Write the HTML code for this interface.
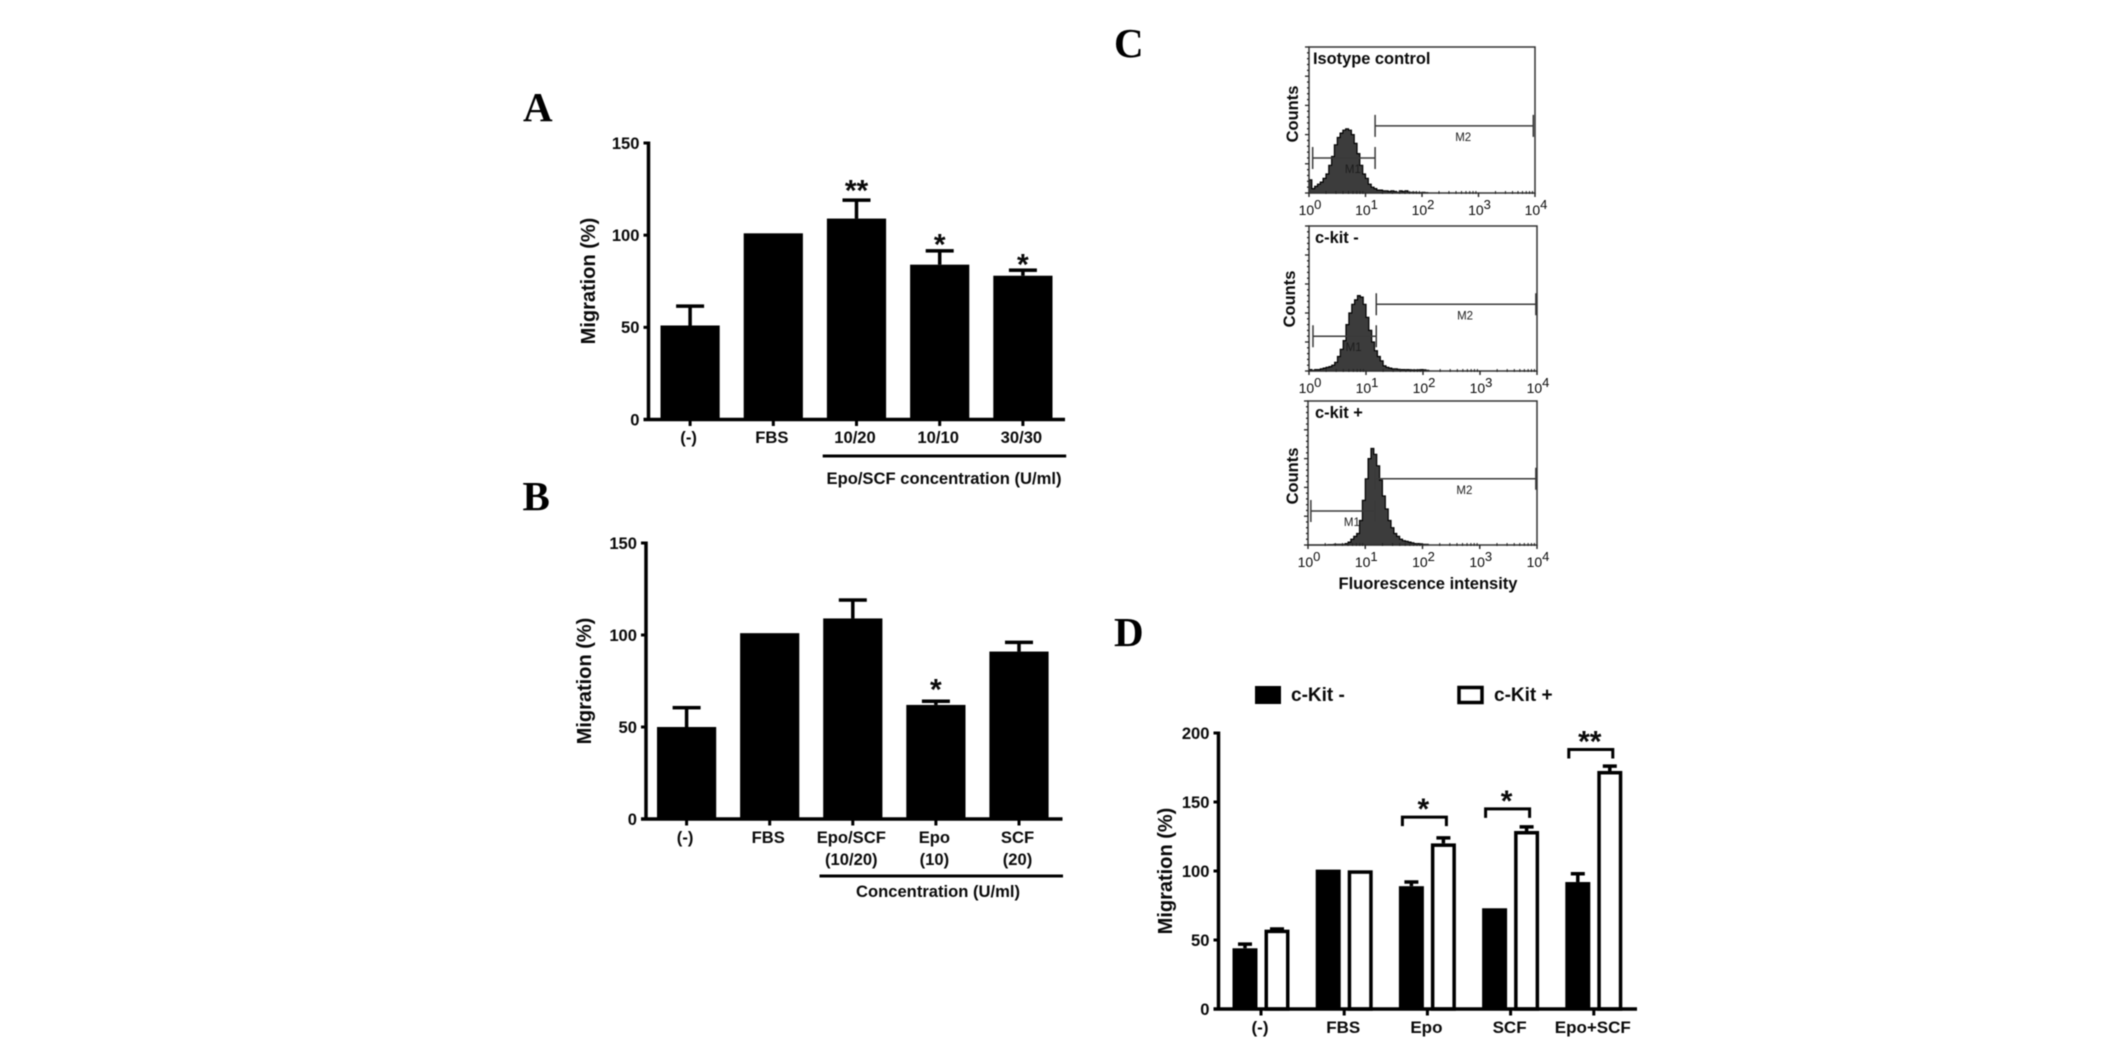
<!DOCTYPE html>
<html lang="en">
<head>
<meta charset="utf-8">
<title>Migration and c-Kit flow cytometry figure</title>
<style>
html,body{margin:0;padding:0;background:#fff;}
#figure{display:block;width:2125px;height:1042px;font-family:"Liberation Sans",sans-serif;filter:blur(0.5px);}
text{font-family:"Liberation Sans",sans-serif;fill:#0a0a0a;}
.panel-letter{font-family:"Liberation Serif",serif;font-weight:bold;font-size:41px;fill:#000;}
.tick{font-size:16.6px;font-weight:bold;}
.tick-d{font-size:17px;font-weight:bold;}
.title{font-size:20px;font-weight:bold;}
.note{font-size:16.6px;font-weight:bold;}
.star{font-size:30px;font-weight:bold;text-anchor:middle;}
.hist-title{font-size:16.4px;font-weight:bold;}
.flow-title{font-size:16.5px;font-weight:bold;}
.flow-tick{font-size:14px;}
.gate-label{font-size:11.5px;fill:#1c1c1c;}
.legend-label{font-size:19px;font-weight:bold;}
</style>
</head>
<body>
<svg id="figure" xmlns="http://www.w3.org/2000/svg" width="2125" height="1042" viewBox="0 0 2125 1042">
  <rect width="2125" height="1042" fill="#fff"/>
  <text class="panel-letter" x="523" y="121">A</text>
  <text class="panel-letter" x="522.5" y="510">B</text>
  <text class="panel-letter" x="1114" y="57">C</text>
  <text class="panel-letter" x="1114" y="646">D</text>

  <text class="title" text-anchor="middle" transform="translate(595,281) rotate(-90)">Migration (%)</text>
  <text class="title" text-anchor="middle" transform="translate(591,681) rotate(-90)">Migration (%)</text>
  <text class="title" text-anchor="middle" transform="translate(1172,871) rotate(-90)">Migration (%)</text>

  <rect x="822.7" y="454.5" width="243.5" height="3" fill="#000"/>
  <text class="note" x="944" y="484" text-anchor="middle" textLength="235" lengthAdjust="spacingAndGlyphs">Epo/SCF concentration (U/ml)</text>
  <rect x="819.5" y="874.5" width="243.5" height="3" fill="#000"/>
  <text class="note" x="938" y="897" text-anchor="middle" textLength="164" lengthAdjust="spacingAndGlyphs">Concentration (U/ml)</text>

  <rect x="1255" y="686" width="26" height="18" fill="#000"/>
  <text class="legend-label" x="1291" y="701">c-Kit -</text>
  <rect x="1459" y="687.5" width="23" height="15" fill="#fff" stroke="#000" stroke-width="3.5"/>
  <text class="legend-label" x="1494" y="701">c-Kit +</text>

  <text class="flow-title" x="1428" y="589" text-anchor="middle" textLength="179" lengthAdjust="spacingAndGlyphs">Fluorescence intensity</text>

  <g id="panel-a"></g>
  <g id="panel-b"></g>
  <g id="panel-c"></g>
  <g id="panel-d"></g>
</svg>
<script>
// Panel A data
const aCategories = ['(-)', 'FBS', '10/20', '10/10', '30/30'];
const aValues = [51, 101, 109, 84, 78];
const aErrors = [10.5, 0, 10, 7.5, 3];
const aTicks = [0, 50, 100, 150];
const aStars = ['', '', '**', '*', '*'];
const aStarLevels = [0, 0, 125.6, 96.4, 85.5];

// Panel B data
const bCategories = [['(-)'], ['FBS'], ['Epo/SCF', '(10/20)'], ['Epo', '(10)'], ['SCF', '(20)']];
const bValues = [50, 101, 109, 62, 91];
const bErrors = [10.5, 0, 10, 2, 5];
const bTicks = [0, 50, 100, 150];
const bStars = ['', '', '', '*', ''];
const bStarLevels = [0, 0, 0, 71.7, 0];

// Panel C data: counts (percent of frame height) per 0.05-decade bin, starting at 10^0
const isotypeCounts = [9, 3, 4.5, 6, 7.5, 10, 13, 19, 25, 33, 38, 41, 43, 44, 43, 40, 34, 27, 19, 13, 10, 6, 4, 3, 2, 2, 1.5, 1.5, 1, 1.5, 1, 0.5, 1.5, 1, 1.5, 0.5, 0.5, 0.5, 0.3, 0.3, 0.5, 0.3];
const ckitNegCounts = [1, 0.5, 1, 1, 1.5, 2, 2.5, 3, 4, 6, 10, 15, 21, 32, 40, 46, 49, 52, 51, 46, 37, 28, 20, 14, 10, 7, 3.5, 2.5, 2, 1.5, 1.5, 1.2, 1, 1, 1, 0.8, 0.7, 0.7, 0.8, 1, 0.8, 0.5];
const ckitPosCounts = [0, 0, 0, 0, 0, 0, 0, 0.3, 0.3, 0.5, 0.5, 0.5, 0.5, 1, 2, 4, 6, 8, 17, 31, 46, 60, 67, 63, 55, 45, 34, 25, 17, 12, 8, 6, 4, 3, 2.5, 2, 1.5, 1, 1, 0.8, 0.5, 0.5];
const flowNames = ['isotype-control', 'ckit-negative', 'ckit-positive'];
const flowLabels = ['Isotype control', 'c-kit -', 'c-kit +'];
const flowExponents = ['0', '1', '2', '3', '4'];
const m1Gate = [[0.065, 1.17, 24], [0.07, 1.18, 24], [0.05, 1.17, 23.6]];
const m2Gate = [[1.17, 3.97, 46], [1.18, 3.98, 46], [1.17, 3.98, 46]];

// Panel D data
const dCategories = ['(-)', 'FBS', 'Epo', 'SCF', 'Epo+SCF'];
const dNegative = [44, 101, 89, 73, 92];
const dNegativeErrors = [3, 0, 3, 0, 6];
const dPositive = [57.5, 100.5, 120, 129, 172.5];
const dPositiveErrors = [0.5, 0, 4, 3, 3.5];
const dTicks = [0, 50, 100, 150, 200];
const dStars = ['', '', '*', '*', '**'];
const dBracketLevels = [0, 0, 139, 145, 188];

const NS = 'http://www.w3.org/2000/svg';
function make(tag, attrs, parent, content) {
  const el = document.createElementNS(NS, tag);
  for (const k in attrs) el.setAttribute(k, attrs[k]);
  if (content !== undefined) el.textContent = content;
  parent.appendChild(el);
  return el;
}

function drawAxes(g, prefix, L, ticks, yScale) {
  const yAxis = make('rect', {x: L.axisX - 1.75, y: yScale(ticks[ticks.length - 1]) - 1.5, width: 3.5, height: yScale(0) - yScale(ticks[ticks.length - 1]) + 3, fill: '#000'}, g);
  
  
  const xAxis = make('rect', {x: L.axisX - L.tickLen, y: yScale(0) - 1.75, width: L.xEnd - L.axisX + L.tickLen, height: 3.5, fill: '#000'}, g);
  
  
  ticks.forEach(function (t) {
    const mark = make('rect', {x: L.axisX - L.tickLen, y: yScale(t) - 1.5, width: L.tickLen, height: 3, fill: '#000'}, g);
    
    
    const label = make('text', {class: 'tick', x: L.axisX - L.tickLen - 4, y: yScale(t) + 5.8, 'text-anchor': 'end'}, g, String(t));
    
    
  });
}

function drawBarPanel(id, prefix, L, cats, values, errors, ticks, stars, starLevels) {
  const g = document.getElementById(id);
  const yScale = function (v) { return L.y0 - v * (L.y0 - L.yTop) / ticks[ticks.length - 1]; };
  const center = function (i) { return L.barLeft + i * L.pitch + L.barW / 2; };
  values.forEach(function (v, i) {
    const cx = center(i);
    if (errors[i] > 0) {
      const stem = make('rect', {x: cx - 1.75, y: yScale(v + errors[i]), width: 3.5, height: yScale(v) - yScale(v + errors[i]), fill: '#000'}, g);
      
      
      const cap = make('rect', {x: cx - 14, y: yScale(v + errors[i]) - 1.75, width: 28, height: 3.5, fill: '#000'}, g);
      
      
    }
    const bar = make('rect', {x: cx - L.barW / 2, y: yScale(v), width: L.barW, height: yScale(0) - yScale(v), fill: '#000'}, g);
    
    
    const tick = make('rect', {x: cx - 1.5, y: yScale(0), width: 3, height: L.tickLen + 1.5, fill: '#000'}, g);
    
    
    const lines = Array.isArray(cats[i]) ? cats[i] : [cats[i]];
    lines.forEach(function (line, k) {
      const label = make('text', {class: 'tick', x: cx - 1.5, y: L.labelY + k * 22, 'text-anchor': 'middle'}, g, line);
      
      
    });
    if (stars[i]) {
      const star = make('text', {class: 'star', x: cx, y: yScale(starLevels[i]) + 12.5}, g, stars[i]);
      
      
    }
  });
  drawAxes(g, prefix, L, ticks, yScale);
}

drawBarPanel('panel-a', 'panel-a', {axisX: 648.5, y0: 419.5, yTop: 143, barLeft: 660.5, barW: 59.2, pitch: 83.2, xEnd: 1065, tickLen: 5, labelY: 443}, aCategories, aValues, aErrors, aTicks, aStars, aStarLevels);
drawBarPanel('panel-b', 'panel-b', {axisX: 646, y0: 819, yTop: 543, barLeft: 657, barW: 59.2, pitch: 83.1, xEnd: 1062.5, tickLen: 5, labelY: 843}, bCategories, bValues, bErrors, bTicks, bStars, bStarLevels);

function drawFlowPanel(index, counts, F) {
  const g = document.getElementById('panel-c');
  const name = flowNames[index];
  const xScale = function (d) { return F.left + d * (F.right - F.left) / 4; };
  const yScale = function (p) { return F.bottom - p * (F.bottom - F.top) / 100; };

  // step outline of the histogram
  let d = 'M' + xScale(0) + ' ' + yScale(0);
  counts.forEach(function (c, i) {
    d += ' L' + xScale(i * 0.05).toFixed(1) + ' ' + yScale(c).toFixed(1) + ' L' + xScale((i + 1) * 0.05).toFixed(1) + ' ' + yScale(c).toFixed(1);
  });
  d += ' L' + xScale(counts.length * 0.05).toFixed(1) + ' ' + yScale(0) + ' Z';
  const hist = make('path', {d: d, fill: '#3c3c3c', stroke: '#000', 'stroke-width': 1.2}, g);
  
  

  const frame = make('rect', {x: F.left, y: F.top, width: F.right - F.left, height: F.bottom - F.top, fill: 'none', stroke: '#333', 'stroke-width': 1.5}, g);
  
  

  // left ticks
  for (let p = 0; p <= 100; p += 4) {
    const major = p % 20 === 0;
    const t = make('line', {x1: F.left - (major ? 4 : 2), x2: F.left, y1: yScale(p), y2: yScale(p), stroke: '#222', 'stroke-width': 1.3}, g);
    
    
  }
  // bottom ticks and labels
  flowExponents.forEach(function (exp, dec) {
    const x = xScale(dec);
    const t = make('line', {x1: x, x2: x, y1: F.bottom, y2: F.bottom + 4, stroke: '#222', 'stroke-width': 1.4}, g);
    
    
    if (dec < 4) {
      for (let m = 2; m <= 9; m++) {
        const mx = xScale(dec + Math.log10(m));
        const mt = make('line', {x1: mx, x2: mx, y1: F.bottom - 2, y2: F.bottom + 1, stroke: '#222', 'stroke-width': 1}, g);
        
        
      }
    }
    const lab = make('text', {class: 'flow-tick', x: x + 1, y: F.bottom + 22, 'text-anchor': 'middle', fill: '#111'}, g);
    
    
    make('tspan', {}, lab, '10');
    make('tspan', {dy: -6, 'font-size': '13'}, lab, exp);
  });

  // gates
  [[m1Gate[index], 'M1'], [m2Gate[index], 'M2']].forEach(function (pair) {
    const gate = pair[0], tag = pair[1];
    const gy = yScale(gate[2]);
    const x1 = xScale(gate[0]), x2 = xScale(gate[1]);
    const pathD = 'M' + x1 + ' ' + (gy - 11) + ' V' + (gy + 11) + ' M' + x1 + ' ' + gy + ' H' + x2 + ' M' + x2 + ' ' + (gy - 11) + ' V' + (gy + 11);
    const line = make('path', {d: pathD, fill: 'none', stroke: '#3a3a3a', 'stroke-width': 1.5}, g);
    
    
    const label = make('text', {class: 'gate-label', x: (x1 + x2) / 2 + 9, y: gy + 15, 'text-anchor': 'middle'}, g, tag);
    
    
  });

  const title = make('text', {class: 'hist-title', x: F.left + F.titleDx, y: F.top + 17}, g, flowLabels[index]);
  
  
  const countsTitle = make('text', {class: 'flow-title', 'text-anchor': 'middle', transform: 'translate(' + F.countsX + ',' + F.countsY + ') rotate(-90)'}, g, 'Counts');
  
  
}

drawFlowPanel(0, isotypeCounts, {left: 1309, right: 1535, top: 47, bottom: 193, titleDx: 4, countsX: 1298, countsY: 114});
drawFlowPanel(1, ckitNegCounts, {left: 1309, right: 1537, top: 226, bottom: 371, titleDx: 6, countsX: 1295, countsY: 299});
drawFlowPanel(2, ckitPosCounts, {left: 1308, right: 1537, top: 401, bottom: 545, titleDx: 7, countsX: 1298, countsY: 476});

(function drawPanelD() {
  const g = document.getElementById('panel-d');
  const L = {axisX: 1218.5, y0: 1009, yTop: 733, groupLeft: 1232.5, pitch: 83.2, barW: 25, second: 32, xEnd: 1637, tickLen: 5};
  const yScale = function (v) { return L.y0 - v * (L.y0 - L.yTop) / dTicks[dTicks.length - 1]; };
  dCategories.forEach(function (cat, i) {
    const left = L.groupLeft + i * L.pitch;
    const cxN = left + L.barW / 2, cxP = left + L.second + L.barW / 2;
    if (dNegativeErrors[i] > 0) {
      const e = make('path', {d: 'M' + (cxN - 7) + ' ' + yScale(dNegative[i] + dNegativeErrors[i]) + ' H' + (cxN + 7) + ' M' + cxN + ' ' + yScale(dNegative[i] + dNegativeErrors[i]) + ' V' + yScale(dNegative[i]), stroke: '#000', 'stroke-width': 3.5, fill: 'none'}, g);
      
      
    }
    if (dPositiveErrors[i] > 0) {
      const e = make('path', {d: 'M' + (cxP - 7) + ' ' + yScale(dPositive[i] + dPositiveErrors[i]) + ' H' + (cxP + 7) + ' M' + cxP + ' ' + yScale(dPositive[i] + dPositiveErrors[i]) + ' V' + yScale(dPositive[i]), stroke: '#000', 'stroke-width': 3.5, fill: 'none'}, g);
      
      
    }
    const neg = make('rect', {x: left, y: yScale(dNegative[i]), width: L.barW, height: yScale(0) - yScale(dNegative[i]), fill: '#000'}, g);
    
    
    const pos = make('rect', {x: left + L.second + 1.75, y: yScale(dPositive[i]) + 1.75, width: L.barW - 3.5, height: yScale(0) - yScale(dPositive[i]) - 1.75, fill: '#fff', stroke: '#000', 'stroke-width': 3.5}, g);
    
    
    const cx = left + (L.second + L.barW) / 2;
    const tick = make('rect', {x: cx - 1.5, y: L.y0, width: 3, height: L.tickLen + 1.5, fill: '#000'}, g);
    
    
    const label = make('text', {class: 'tick-d', x: cx - 1, y: 1033, 'text-anchor': 'middle'}, g, cat);
    
    
    if (dStars[i]) {
      const by = yScale(dBracketLevels[i]);
      const br = make('path', {d: 'M' + (cxN - 9) + ' ' + (by + 9) + ' V' + by + ' H' + (cxP + 3) + ' V' + (by + 9), fill: 'none', stroke: '#000', 'stroke-width': 3}, g);
      
      
      const star = make('text', {class: 'star', x: (cxN + cxP) / 2 - 4, y: by + 2}, g, dStars[i]);
      
      
    }
  });
  drawAxes(g, 'panel-d', L, dTicks, yScale);
})();
</script>
</body>
</html>
